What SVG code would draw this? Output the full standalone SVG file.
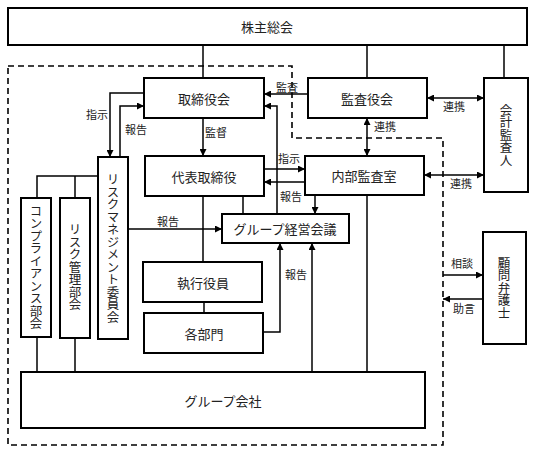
<svg xmlns="http://www.w3.org/2000/svg" width="535" height="455" viewBox="0 0 535 455">
<style>
  .box { fill: #fff; stroke: #000; stroke-width: 2; }
  .ln { fill: none; stroke: #000; stroke-width: 1.5; }
  .dash { fill: none; stroke: #000; stroke-width: 1.6; stroke-dasharray: 6 4; }
  text { font-family: "Noto Sans CJK JP", "Noto Sans CJK SC", sans-serif; fill: #222; }
  .t { font-size: 13px; text-anchor: middle; dominant-baseline: central; }
  .v { font-size: 12.5px; text-anchor: middle; writing-mode: vertical-rl; }
  .lb { font-size: 11px; text-anchor: middle; }
</style>
<defs>
  <marker id="ah" viewBox="0 0 10 10" refX="10" refY="5" markerWidth="7" markerHeight="7" markerUnits="userSpaceOnUse" orient="auto-start-reverse">
    <path d="M0,0 L10,5 L0,10 Z" fill="#000"/>
  </marker>
</defs>

<g id="boundary">
  <path class="dash" d="M8,66 H292 V138 H443 V445 H8 Z"/>
</g>

<g id="connectors">
  <path class="ln" d="M203,45 V78"/>
  <path class="ln" d="M367,45 V78"/>
  <path class="ln" d="M504,45 V78"/>
  <path class="ln" d="M308,94 H264" marker-end="url(#ah)"/>
  <path class="ln" d="M427,98 H484" marker-start="url(#ah)" marker-end="url(#ah)"/>
  <path class="ln" d="M367,118 V156" marker-start="url(#ah)" marker-end="url(#ah)"/>
  <path class="ln" d="M203,118 V156" marker-end="url(#ah)"/>
  <path class="ln" d="M144,93 H110 V157" marker-end="url(#ah)"/>
  <path class="ln" d="M120,157 V106 H144" marker-end="url(#ah)"/>
  <path class="ln" d="M98,176 H37 V198"/>
  <path class="ln" d="M75,176 V198"/>
  <path class="ln" d="M128,229 H222" marker-end="url(#ah)"/>
  <path class="ln" d="M264,169 H305" marker-end="url(#ah)"/>
  <path class="ln" d="M305,182 H264" marker-end="url(#ah)"/>
  <path class="ln" d="M277,214 V106 H264" marker-end="url(#ah)"/>
  <path class="ln" d="M315,195 V214" marker-end="url(#ah)"/>
  <path class="ln" d="M243,196 V214"/>
  <path class="ln" d="M203,196 V262"/>
  <path class="ln" d="M204,302 V313"/>
  <path class="ln" d="M263,332 H280 V243" marker-end="url(#ah)"/>
  <path class="ln" d="M312,372 V243" marker-end="url(#ah)"/>
  <path class="ln" d="M367,195 V372"/>
  <path class="ln" d="M424,175 H484" marker-start="url(#ah)" marker-end="url(#ah)"/>
  <path class="ln" d="M443,275 H483" marker-end="url(#ah)"/>
  <path class="ln" d="M483,299 H443" marker-end="url(#ah)"/>
  <path class="ln" d="M37,337 V372"/>
  <path class="ln" d="M75,338 V372"/>
</g>

<g id="labels">
  <text class="lb" x="287" y="92">監査</text>
  <text class="lb" x="454" y="111">連携</text>
  <text class="lb" x="385" y="131">連携</text>
  <text class="lb" x="97" y="119">指示</text>
  <text class="lb" x="136" y="134">報告</text>
  <text class="lb" x="216" y="137">監督</text>
  <text class="lb" x="289" y="163">指示</text>
  <text class="lb" x="291" y="201">報告</text>
  <text class="lb" x="168" y="226">報告</text>
  <text class="lb" x="296" y="279">報告</text>
  <text class="lb" x="461" y="188">連携</text>
  <text class="lb" x="462" y="268">相談</text>
  <text class="lb" x="464" y="313">助言</text>
</g>

<g id="shareholders">
  <rect class="box" x="8" y="8" width="519" height="37"/>
  <text class="t" x="267" y="26">株主総会</text>
</g>
<g id="board">
  <rect class="box" x="144" y="78" width="120" height="40"/>
  <text class="t" x="204" y="98">取締役会</text>
</g>
<g id="auditboard">
  <rect class="box" x="308" y="78" width="119" height="40"/>
  <text class="t" x="367" y="98">監査役会</text>
</g>
<g id="accountingauditor">
  <rect class="box" x="484" y="78" width="44" height="114"/>
  <text class="v" x="506" y="135">会計監査人</text>
</g>
<g id="representative">
  <rect class="box" x="145" y="156" width="119" height="40"/>
  <text class="t" x="204" y="176">代表取締役</text>
</g>
<g id="internalaudit">
  <rect class="box" x="305" y="156" width="119" height="39"/>
  <text class="t" x="364" y="175">内部監査室</text>
</g>
<g id="riskcommittee">
  <rect class="box" x="98" y="157" width="30" height="182"/>
  <text class="v" x="113" y="248">リスクマネジメント委員会</text>
</g>
<g id="compliance">
  <rect class="box" x="21" y="198" width="30" height="139"/>
  <text class="v" x="36" y="267">コンプライアンス部会</text>
</g>
<g id="riskmgmt">
  <rect class="box" x="60" y="198" width="30" height="140"/>
  <text class="v" x="75" y="267">リスク管理部会</text>
</g>
<g id="groupmeeting">
  <rect class="box" x="222" y="214" width="127" height="29"/>
  <text class="t" x="285" y="228">グループ経営会議</text>
</g>
<g id="officers">
  <rect class="box" x="143" y="262" width="119" height="40"/>
  <text class="t" x="203" y="282">執行役員</text>
</g>
<g id="departments">
  <rect class="box" x="144" y="313" width="119" height="40"/>
  <text class="t" x="204" y="333">各部門</text>
</g>
<g id="groupcompanies">
  <rect class="box" x="21" y="372" width="404" height="56"/>
  <text class="t" x="223" y="400">グループ会社</text>
</g>
<g id="lawyer">
  <rect class="box" x="483" y="232" width="43" height="112"/>
  <text class="v" x="504" y="288">顧問弁護士</text>
</g>
</svg>
